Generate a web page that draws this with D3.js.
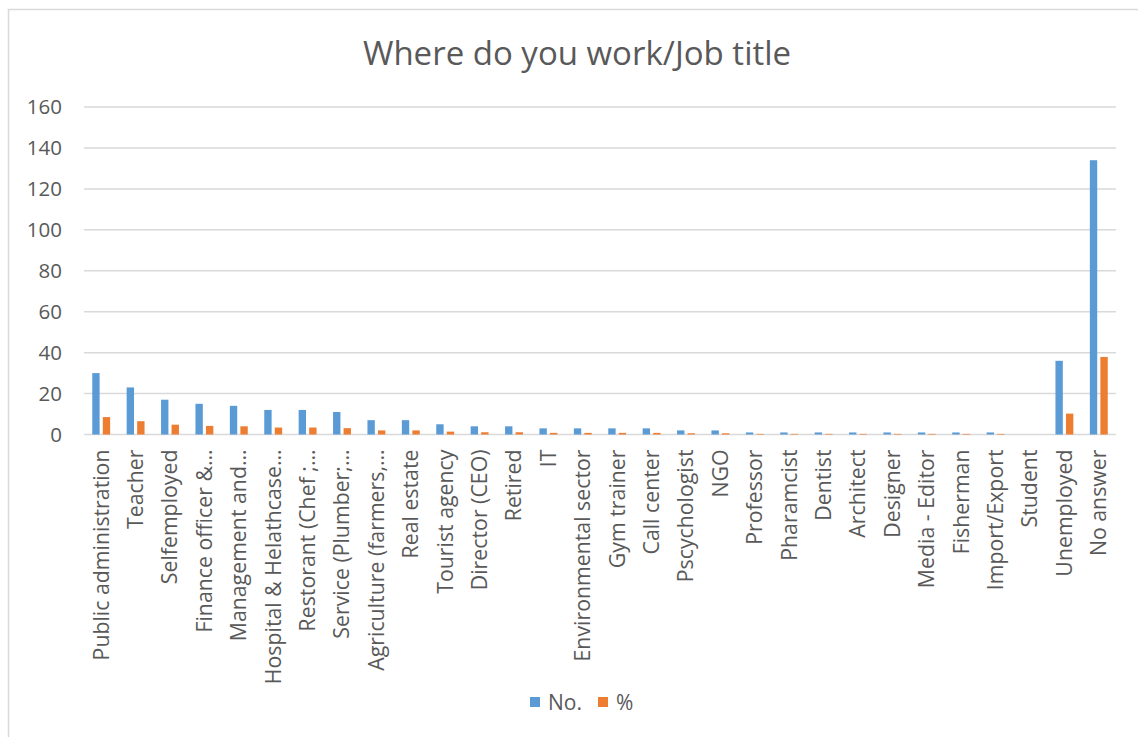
<!DOCTYPE html>
<html>
<head>
<meta charset="utf-8">
<script src="https://cdn.jsdelivr.net/npm/d3@7"></script>
<style>
  html, body { margin: 0; padding: 0; background: #fff; }
  svg { display: block; }
  text { font-family: "Open Sans", "Noto Sans", sans-serif; fill: #595959; }
</style>
</head>
<body>
<svg id="chart" width="1138" height="737"></svg>
<script>
// Job categories (long names shortened the way the axis shows them)
const categories = [
  "Public administration", "Teacher", "Selfemployed", "Finance officer &\u2026",
  "Management and\u2026", "Hospital & Helathcase\u2026", "Restorant (Chef ;\u2026",
  "Service (Plumber;\u2026", "Agriculture (farmers,\u2026", "Real estate",
  "Tourist agency", "Director (CEO)", "Retired", "IT", "Environmental sector",
  "Gym trainer", "Call center", "Pscychologist", "NGO", "Professor",
  "Pharamcist", "Dentist", "Architect", "Designer", "Media - Editor",
  "Fisherman", "Import/Export", "Student", "Unemployed", "No answer"
];

// Number of respondents per category
const countValues = [
  30, 23, 17, 15, 14, 12, 12, 11, 7, 7,
  5, 4, 4, 3, 3, 3, 3, 2, 2, 1,
  1, 1, 1, 1, 1, 1, 1, 0, 36, 134
];

// Share of respondents per category (%)
const percentValues = [
  8.5, 6.5, 4.8, 4.2, 4.0, 3.4, 3.4, 3.1, 2.0, 2.0,
  1.4, 1.1, 1.1, 0.8, 0.8, 0.8, 0.8, 0.6, 0.6, 0.3,
  0.3, 0.3, 0.3, 0.3, 0.3, 0.3, 0.3, 0.0, 10.2, 37.9
];

const seriesNames = ["No.", "%"];
const seriesColors = ["#5b9bd5", "#ed7d31"];
const yTicks = [0, 20, 40, 60, 80, 100, 120, 140, 160];

const svg = d3.select("#chart");

// chart area frame
svg.append("rect")
  .attr("x", 8.5).attr("y", 9.5)
  .attr("width", 1160).attr("height", 760)
  .attr("fill", "#fff")
  .attr("stroke", "#d9d9d9").attr("stroke-width", 1.5);

const plot = { left: 84, right: 1116, top: 107, bottom: 434.5 };

const x = d3.scaleBand()
  .domain(categories)
  .range([plot.left, plot.right])
  .paddingInner(0.48).paddingOuter(0.24);

const xInner = d3.scaleBand()
  .domain(seriesNames)
  .range([0, x.bandwidth()])
  .paddingInner(0.3);

const y = d3.scaleLinear()
  .domain([0, 160])
  .range([plot.bottom, plot.top]);

// gridlines
svg.append("g")
  .selectAll("line")
  .data(yTicks)
  .join("line")
  .attr("x1", plot.left).attr("x2", plot.right)
  .attr("y1", d => y(d)).attr("y2", d => y(d))
  .attr("stroke", "#d9d9d9").attr("stroke-width", 1.5);

// y axis labels
const yAxis = d3.axisLeft(y).tickValues(yTicks).tickSize(0).tickPadding(0);
svg.append("g")
  .attr("transform", `translate(${plot.left - 22},0)`)
  .call(yAxis)
  .call(g => g.select(".domain").remove())
  .call(g => g.selectAll("text")
    .attr("fill", "#595959")
    .style("font-family", "'Open Sans', sans-serif")
    .style("font-size", "20.5px"));

// bars
const rows = categories.map((c, i) => ({ cat: c, vals: [countValues[i], percentValues[i]] }));
const groups = svg.append("g")
  .selectAll("g")
  .data(rows)
  .join("g")
  .attr("transform", d => `translate(${x(d.cat)},0)`);

groups.selectAll("rect")
  .data(d => d.vals.map((v, j) => ({ key: seriesNames[j], v, color: seriesColors[j] })))
  .join("rect")
  .attr("x", d => xInner(d.key))
  .attr("width", xInner.bandwidth())
  .attr("y", d => y(d.v))
  .attr("height", d => y(0) - y(d.v))
  .attr("fill", d => d.color);

// x axis labels, rotated
const xAxis = d3.axisBottom(x).tickSize(0).tickPadding(0);
svg.append("g")
  .attr("transform", `translate(0,${plot.bottom})`)
  .call(xAxis)
  .call(g => g.select(".domain").remove())
  .call(g => g.selectAll("text")
    .attr("fill", "#595959")
    .style("font-family", "'Open Sans', sans-serif")
    .style("font-size", "21.3px")
    .attr("text-anchor", "end")
    .attr("transform", "rotate(-90)")
    .attr("x", -15)
    .attr("y", 0)
    .attr("dy", "0.35em"));

// title
svg.append("text")
  .attr("x", 577).attr("y", 65)
  .attr("text-anchor", "middle")
  .style("font-size", "33px")
  .text("Where do you work/Job title");

// legend
const legendPos = [530, 598];
const legend = svg.append("g")
  .selectAll("g")
  .data(seriesNames)
  .join("g")
  .attr("transform", (d, i) => `translate(${legendPos[i]},697)`);
legend.append("rect")
  .attr("width", 10).attr("height", 10)
  .attr("fill", (d, i) => seriesColors[i]);
legend.append("text")
  .attr("x", 18).attr("y", 5)
  .attr("dy", "0.36em")
  .style("font-size", "21px")
  .text(d => d);
</script>
</body>
</html>
